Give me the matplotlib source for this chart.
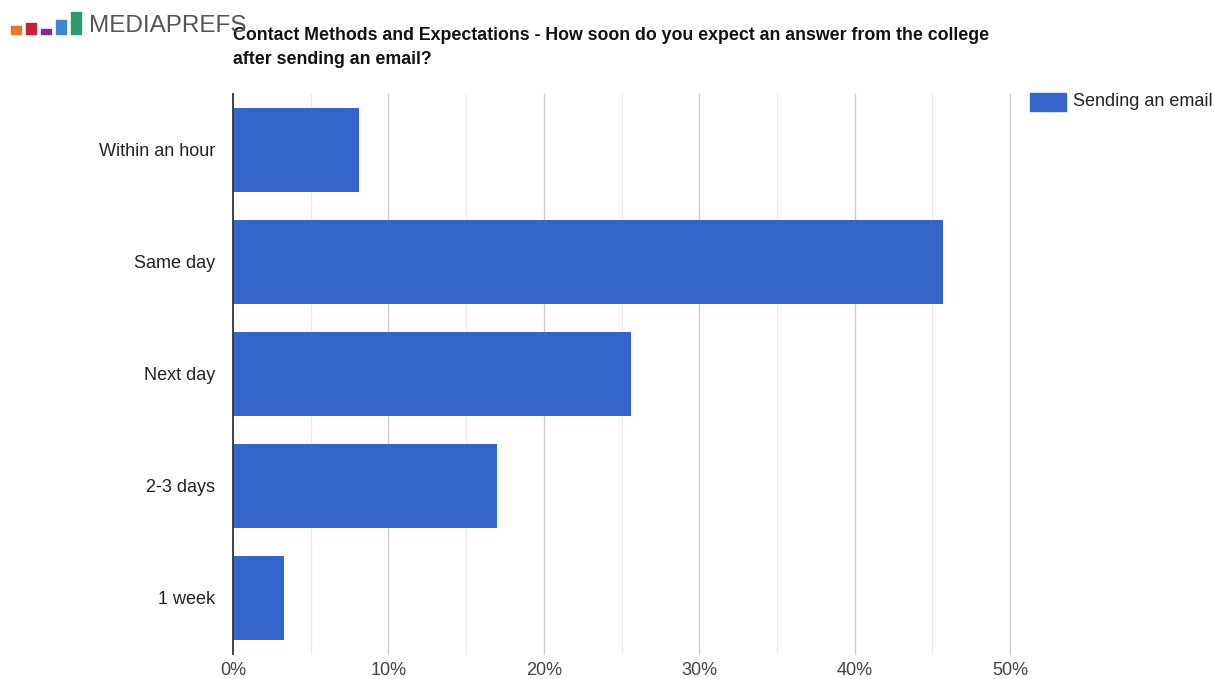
import matplotlib.pyplot as plt
from matplotlib.patches import Rectangle

plt.rcParams['font.family'] = ['Liberation Sans', 'DejaVu Sans']

# survey answers, top to bottom
answers = ['Within an hour', 'Same day', 'Next day', '2-3 days', '1 week']
shares = [8.1, 45.7, 25.6, 17.0, 3.3]
series_name = 'Sending an email'
x_ticks = [0, 10, 20, 30, 40, 50]
x_minor = [5, 15, 25, 35, 45]
title_lines = ['Contact Methods and Expectations - How soon do you expect an answer from the college',
               'after sending an email?']

# logo blocks: colour and height (px)
logo_colors = ['#e8762c', '#c8203a', '#7b2d8e', '#3f86d0', '#2e9a6e']
logo_heights = [8, 11, 5, 14, 22]

W, H = 1214, 679
fig = plt.figure(figsize=(W / 100, H / 100), dpi=100)
ax = fig.add_axes([233 / W, 1 - 654 / H, (1010 - 233) / W, (654 - 94) / H])

ypos = list(range(len(answers)))
ax.barh(ypos, shares, height=0.75, color='#3366cc', zorder=3, label=series_name)
ax.set_ylim(len(answers) - 0.5, -0.5)
ax.set_xlim(0, 50)

# gridlines: darker every 10%, faint in between (unclipped so the 50% line shows fully)
for v in x_ticks[1:]:
    ax.axvline(v, color='#cccccc', lw=1, zorder=1, clip_on=False)
for v in x_minor:
    ax.axvline(v, color='#ebebeb', lw=1, zorder=1)
ax.axvline(0, color='#333333', lw=1.3, zorder=4, clip_on=False)

ax.set_xticks(x_ticks)
ax.set_xticklabels([f'{v}%' for v in x_ticks], color='#444444', fontsize=13)
ax.set_yticks(ypos)
ax.set_yticklabels(answers, color='#222222', fontsize=13)
ax.tick_params(axis='both', length=0)
ax.tick_params(axis='x', pad=6)
ax.tick_params(axis='y', pad=13)
for s in ax.spines.values():
    s.set_visible(False)

# two-line bold title
for i, line in enumerate(title_lines):
    fig.text(233 / W, 1 - (35 + 24 * i) / H, line, fontsize=12.8, fontweight='bold',
             color='#111111', va='center', ha='left')

# legend drawn by hand to the right of the plot
fig.patches.append(Rectangle((1030 / W, 1 - 111 / H), 36 / W, 18 / H,
                             transform=fig.transFigure, color='#3366cc'))
fig.text(1073 / W, 1 - 102 / H, series_name, fontsize=13, color='#222222', va='center')

# logo
x = 11
for c, h in zip(logo_colors, logo_heights):
    fig.patches.append(Rectangle((x / W, 1 - 34 / H), 10 / W, h / H,
                                 transform=fig.transFigure, color=c))
    x += 15
fig.text(89 / W, 1 - 26 / H, 'MEDIAPREFS', fontsize=17.5, color='#555555',
         fontweight='light', va='center', ha='left')

fig.savefig('out.png', dpi=100, facecolor='white')
